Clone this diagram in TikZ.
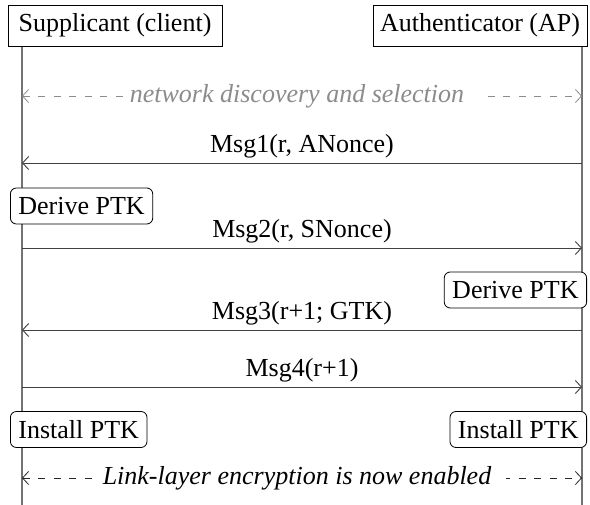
\documentclass[tikz,border=0pt]{standalone}
\usepackage{fontspec}
\setmainfont{Liberation Serif}
\usetikzlibrary{arrows.meta}
\begin{document}
\begin{tikzpicture}[x=1pt,y=-1pt,
  every node/.style={font=\fontsize{26}{30}\selectfont},
  actor/.style={draw, fill=white, minimum width=214pt, minimum height=41pt, inner sep=0pt, line width=0.8pt},
  action/.style={draw, fill=white, rounded corners=6pt, minimum height=36pt, inner xsep=8pt, inner ysep=0pt, line width=0.8pt},
  lifeline/.style={draw=black!55, line width=1.3pt},
  msg/.style={draw=black!75, line width=0.9pt, -{Straight Barb[length=6pt,width=13pt]}},
  note/.style={dash pattern=on 7pt off 8.5pt, line width=0.8pt, {Straight Barb[length=6pt,width=13pt]}-{Straight Barb[length=6pt,width=13pt]}},
  lbl/.style={midway, above, inner sep=4pt},
  notelbl/.style={midway, fill=white, inner xsep=5pt, inner ysep=4pt, font=\fontsize{26}{30}\selectfont\itshape}
]
\useasboundingbox (0,0) rectangle (590,505);
% lifelines
\coordinate (L0) at (22,46);
\coordinate (L1) at (22,505);
\coordinate (R0) at (582,46);
\coordinate (R1) at (582,505);
\draw[lifeline] (L0) -- (L1);
\draw[lifeline] (R0) -- (R1);
% actors
\node[actor] (sup) at (115,25.5) {Supplicant (client)};
\node[actor] (auth) at (480,25.5) {Authenticator (AP)};
% message anchor points
\coordinate (d0) at (22,96);   \coordinate (d1) at (582,96);
\coordinate (m1a) at (582,163); \coordinate (m1b) at (22,163);
\coordinate (m2a) at (22,248);  \coordinate (m2b) at (582,248);
\coordinate (m3a) at (582,330); \coordinate (m3b) at (22,330);
\coordinate (m4a) at (22,387);  \coordinate (m4b) at (582,387);
\coordinate (e0) at (22,478);  \coordinate (e1) at (582,478);
% discovery
\draw[note, draw=black!45] (d0) -- node[notelbl, text=black!45] (disc) {network discovery and selection\rule{10pt}{0pt}} (d1);
% messages
\draw[msg] (m1a) -- node[lbl] (l1) {Msg1(r, ANonce)} (m1b);
\draw[msg] (m2a) -- node[lbl] (l2) {Msg2(r, SNonce)} (m2b);
\draw[msg] (m3a) -- node[lbl] (l3) {Msg3(r+1; GTK)} (m3b);
\draw[msg] (m4a) -- node[lbl] (l4) {Msg4(r+1)} (m4b);
% actions
\node[action, anchor=west] (dl) at (10,206) {Derive PTK};
\node[action, anchor=east] (dr) at (587,290) {Derive PTK};
\node[action, anchor=west] (il) at (10,429.5) {Install PTK};
\node[action, anchor=east] (ir) at (587,429.5) {Install PTK};
% encryption enabled
\draw[note, draw=black!85] (e0) -- node[notelbl] (enc) {Link-layer encryption is now enabled\rule{10pt}{0pt}} (e1);
\end{tikzpicture}
\end{document}
